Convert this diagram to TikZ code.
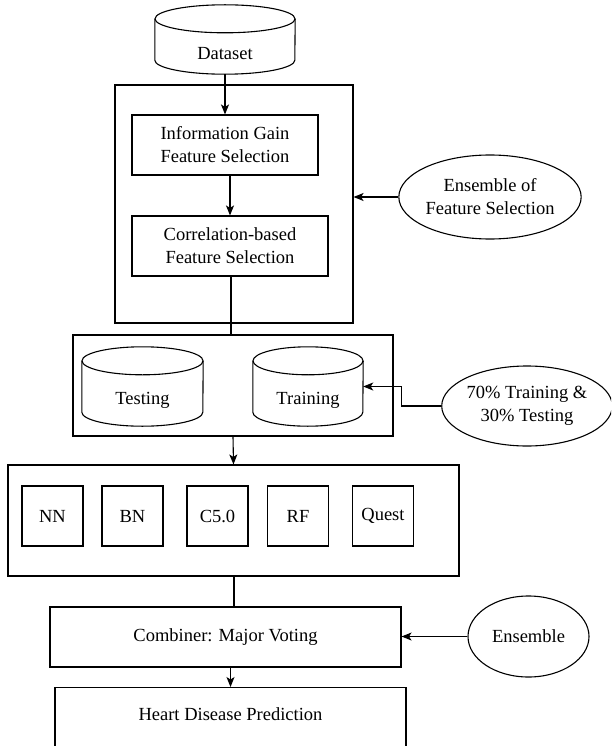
\documentclass[tikz,border=0pt]{standalone}
\usepackage{fontspec}
\setmainfont{Liberation Serif}
\usetikzlibrary{arrows.meta,shapes.geometric,calc}
\newcommand\drawcyl[4]{%
  \draw[line] ([yshift=-#3]#1.north west) -- ([yshift=#3]#1.south west)
    arc[start angle=180,end angle=360,x radius=#2,y radius=#3]
    -- ([yshift=-#3]#1.north east);
  \draw[line] ([yshift=-#3]#1.north) ellipse[x radius=#2,y radius=#3];
  \node (#1-t) at ($([yshift=-2*#3]#1.north)!0.5!(#1.south)$) {#4};
}
\begin{document}
\begin{tikzpicture}[x=1pt,y=-1pt,
  every node/.style={font=\fontspec{Liberation Serif}\fontsize{18.5}{23}\selectfont, inner sep=0pt},
  line/.style={line width=1.1pt},
  box/.style={draw, line width=1.1pt, rectangle, align=center},
  oval/.style={draw, line width=1.1pt, ellipse, align=center},
  cylarea/.style={rectangle, inner sep=0pt},
  arr/.style={line width=1.1pt, -{Stealth[length=10pt,width=8pt,inset=2.5pt]}},
]
\clip (0,0) rectangle (611,746);

% Dataset
\node[cylarea, minimum width=140pt, minimum height=69pt] (ds) at (225,39.5) {};
\drawcyl{ds}{70pt}{14pt}{Dataset}

% Feature selection block
\node[box, minimum width=238pt, minimum height=238pt] (fsbox) at (234,204) {};
\node[box, minimum width=186pt, minimum height=60pt] (ig) at (225,145) {Information Gain\\Feature Selection};
\node[box, minimum width=196pt, minimum height=60pt] (cfs) at (230,246) {Correlation-based\\Feature Selection};
\node[oval, minimum width=156pt, minimum height=84pt] (efs) at (490,197) {Ensemble of\\Feature Selection};

% Split block
\node[box, minimum width=320pt, minimum height=101pt] (split) at (233,385.5) {};
\node[cylarea, minimum width=121pt, minimum height=79pt] (test) at (142.5,386.5) {};
\drawcyl{test}{60.5pt}{14pt}{Testing}
\node[cylarea, minimum width=110pt, minimum height=79pt] (train) at (308,386.5) {};
\drawcyl{train}{55pt}{14pt}{Training}
\node[oval, minimum width=168pt, minimum height=80pt] (ratio) at (527,406) {70\% Training \&\\30\% Testing};

% Models block
\node[box, minimum width=451pt, minimum height=111pt] (models) at (233.5,520.5) {};
\node[box, minimum width=61pt, minimum height=60pt] (nn) at (52.5,516) {NN};
\node[box, minimum width=61pt, minimum height=60pt] (bn) at (132.5,516) {BN};
\node[box, minimum width=61pt, minimum height=60pt] (c50) at (217.5,516) {C5.0};
\node[box, minimum width=61pt, minimum height=60pt] (rf) at (298,516) {RF};
\node[box, minimum width=61pt, minimum height=60pt] (quest) at (383,516) {Quest};

% Combiner
\node[box, minimum width=351pt, minimum height=60pt] (comb) at (225.5,637) {Combiner: Major Voting};
\node[oval, minimum width=121pt, minimum height=81pt] (ens) at (528.5,636.5) {Ensemble};

% Prediction
\node[box, minimum width=351pt, minimum height=90pt, anchor=north] (hdp) at (230.5,687) {};
\node (hdpt) at ([yshift=-27pt]hdp.north) {Heart Disease Prediction};

% Connectors
\draw[arr] (ds.south) -- (ig.north);
\draw[arr] (ig.south -| cfs.north) -- (cfs.north);
\draw[line] ([xshift=1pt]cfs.south) -- ([xshift=1pt]cfs.south |- split.north);
\draw[arr] (efs.west) -- (efs.west -| fsbox.east);
\draw[arr] (ratio.west) -- ++(-40,0) |- (train.east);
\draw[arr] (split.south) -- (models.north);
\draw[line] ([xshift=0.5pt]models.south) -- ([xshift=0.5pt]models.south |- comb.north);
\draw[arr] (ens.west) -- (ens.west -| comb.east);
\draw[arr] (comb.south -| hdp.north) -- (hdp.north);
\end{tikzpicture}
\end{document}
